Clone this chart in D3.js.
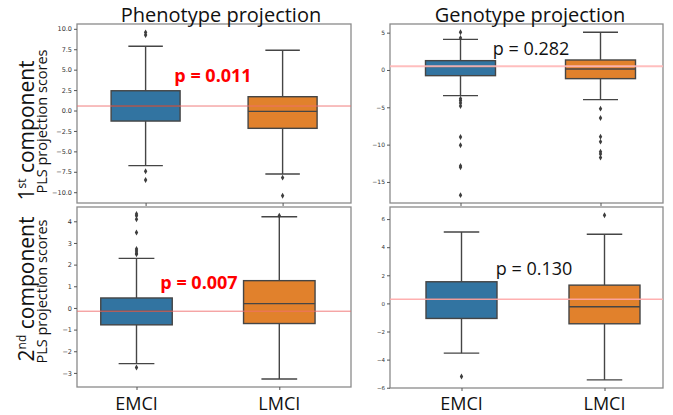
<!DOCTYPE html>
<html>
<head>
<meta charset="utf-8">
<script src="https://cdn.jsdelivr.net/npm/d3@7"></script>
<style>
  body { margin: 0; background: #fff; }
  svg { display: block; }
</style>
</head>
<body>
<svg width="673" height="415"></svg>
<script>
const groups = ["EMCI", "LMCI"]
const boxColors = ["#3274a1", "#e1812c"]

// phenotype projection, 1st component
const pheno1Lo = [-6.75, -7.77]
const pheno1Q1 = [-1.29, -2.18]
const pheno1Med = [0.55, -0.1]
const pheno1Q3 = [2.42, 1.69]
const pheno1Hi = [7.86, 7.37]
const pheno1Out = [[9.24, 9.57, -7.44, -8.5], [-8.22, -10.43]]
const pheno1Ticks = [-10, -7.5, -5, -2.5, 0, 2.5, 5, 7.5, 10]

// genotype projection, 1st component
const geno1Lo = [-3.44, -3.97]
const geno1Q1 = [-0.76, -1.16]
const geno1Med = [0.45, 0.13]
const geno1Q3 = [1.25, 1.34]
const geno1Hi = [4.1, 5.05]
const geno1Out = [
  [5.05, 4.3, -3.84, -4.1, -4.42, -4.82, -8.97, -10.08, -12.85, -13.03, -16.77],
  [-5.18, -6.43, -8.93, -9.6, -10.94, -11.24, -11.74]
]
const geno1Ticks = [-15, -10, -5, 0, 5]

// phenotype projection, 2nd component
const pheno2Lo = [-2.57, -3.28]
const pheno2Q1 = [-0.78, -0.72]
const pheno2Med = [-0.15, 0.2]
const pheno2Q3 = [0.46, 1.26]
const pheno2Hi = [2.29, 4.21]
const pheno2Out = [[2.48, 2.53, 2.63, 2.72, 3.48, 4.09, 4.26, 4.34, -2.75], [4.26]]
const pheno2Ticks = [-3, -2, -1, 0, 1, 2, 3, 4]

// genotype projection, 2nd component
const geno2Lo = [-3.54, -5.44]
const geno2Q1 = [-1.07, -1.45]
const geno2Med = [0.29, -0.24]
const geno2Q3 = [1.54, 1.3]
const geno2Hi = [5.08, 4.92]
const geno2Out = [[-5.2], [6.27]]
const geno2Ticks = [-6, -4, -2, 0, 2, 4, 6]

// reference lines and p values
const refLines = [0.55, 0.5, -0.15, 0.29]
const pTexts = ["p = 0.011", "p = 0.282", "p = 0.007", "p = 0.130"]
const pSignificant = [true, false, true, false]

const svg = d3.select("svg")

const panels = [
  { lo: pheno1Lo, q1: pheno1Q1, med: pheno1Med, q3: pheno1Q3, hi: pheno1Hi, out: pheno1Out, ticks: pheno1Ticks, fmt: d3.format(".1f"),
    x0: 77, x1: 351, y0: 24, y1: 203, cx: [145.6, 282.6], bw: 69, dom: [-11.32, 10.59],
    refW: 1, refC: "#f07070", pX: 213, pY: 82, tickFs: 6.5 },
  { lo: geno1Lo, q1: geno1Q1, med: geno1Med, q3: geno1Q3, hi: geno1Hi, out: geno1Out, ticks: geno1Ticks, fmt: d3.format("d"),
    x0: 390, x1: 663, y0: 24, y1: 203, cx: [460.5, 600.5], bw: 70, dom: [-17.82, 6.16],
    refW: 2, refC: "#ffb8b8", pX: 531, pY: 55, tickFs: 6 },
  { lo: pheno2Lo, q1: pheno2Q1, med: pheno2Med, q3: pheno2Q3, hi: pheno2Hi, out: pheno2Out, ticks: pheno2Ticks, fmt: d3.format("d"),
    x0: 77, x1: 351, y0: 207, y1: 387, cx: [136.5, 279.3], bw: 71.5, dom: [-3.65, 4.66],
    refW: 1, refC: "#f07070", pX: 199, pY: 289, tickFs: 6.5 },
  { lo: geno2Lo, q1: geno2Q1, med: geno2Med, q3: geno2Q3, hi: geno2Hi, out: geno2Out, ticks: geno2Ticks, fmt: d3.format("d"),
    x0: 390, x1: 663, y0: 207, y1: 388, cx: [461.5, 604.5], bw: 71, dom: [-6.02, 6.86],
    refW: 1.5, refC: "#ffa8a8", pX: 534, pY: 275, tickFs: 5.5 }
]

panels.forEach((p, pi) => {
  const x = d3.scalePoint().domain(groups).range(p.cx)
  const y = d3.scaleLinear().domain(p.dom).range([p.y1, p.y0])
  const g = svg.append("g")

  // frame
  g.append("rect")
    .attr("x", p.x0).attr("y", p.y0)
    .attr("width", p.x1 - p.x0).attr("height", p.y1 - p.y0)
    .attr("fill", "none").attr("stroke", "#8a8a8a").attr("stroke-width", 1.3)

  // y axis
  const yAxis = g.append("g")
    .attr("transform", "translate(" + p.x0 + ",0)")
    .call(d3.axisLeft(y).tickValues(p.ticks).tickFormat(p.fmt).tickSize(3).tickPadding(2))
  yAxis.select(".domain").remove()
  yAxis.selectAll("line").attr("stroke", "#555")
  yAxis.selectAll("text").attr("fill", "#333").style("font-family", "DejaVu Sans").style("font-size", p.tickFs + "px")

  // x ticks
  const xAxis = g.append("g")
    .attr("transform", "translate(0," + p.y1 + ")")
    .call(d3.axisBottom(x).tickSize(3).tickFormat(""))
  xAxis.select(".domain").remove()
  xAxis.selectAll("line").attr("stroke", "#555")

  // boxes
  groups.forEach((c, i) => {
    const cx = x(c)
    const lineC = "#454545"
    g.append("line").attr("x1", cx).attr("x2", cx).attr("y1", y(p.hi[i])).attr("y2", y(p.q3[i]))
      .attr("stroke", lineC).attr("stroke-width", 1.4)
    g.append("line").attr("x1", cx).attr("x2", cx).attr("y1", y(p.q1[i])).attr("y2", y(p.lo[i]))
      .attr("stroke", lineC).attr("stroke-width", 1.4)
    ;[p.hi[i], p.lo[i]].forEach(v => {
      g.append("line").attr("x1", cx - p.bw / 4).attr("x2", cx + p.bw / 4).attr("y1", y(v)).attr("y2", y(v))
        .attr("stroke", lineC).attr("stroke-width", 1.4)
    })
    g.append("rect")
      .attr("x", cx - p.bw / 2).attr("width", p.bw)
      .attr("y", y(p.q3[i])).attr("height", y(p.q1[i]) - y(p.q3[i]))
      .attr("fill", boxColors[i]).attr("stroke", lineC).attr("stroke-width", 1.4)
    g.append("line").attr("x1", cx - p.bw / 2).attr("x2", cx + p.bw / 2).attr("y1", y(p.med[i])).attr("y2", y(p.med[i]))
      .attr("stroke", lineC).attr("stroke-width", 1.4)
    g.selectAll(null).data(p.out[i]).enter().append("path")
      .attr("d", d3.symbol(d3.symbolDiamond, 10))
      .attr("transform", d => "translate(" + cx + "," + y(d) + ")")
      .attr("fill", "#3d3d3d")
  })

  // reference line
  g.append("line")
    .attr("x1", p.x0).attr("x2", p.x1).attr("y1", y(refLines[pi])).attr("y2", y(refLines[pi]))
    .attr("stroke", p.refC).attr("stroke-width", p.refW).attr("opacity", 0.9)

  // p value
  g.append("text")
    .attr("x", p.pX).attr("y", p.pY).attr("text-anchor", "middle")
    .style("font-family", "Open Sans").style("font-size", "18px")
    .style("font-weight", pSignificant[pi] ? "bold" : "normal")
    .attr("fill", pSignificant[pi] ? "#ff0000" : "#111")
    .text(pTexts[pi])

  // category labels under bottom row
  if (pi >= 2) {
    g.selectAll(null).data(groups).enter().append("text")
      .attr("x", d => x(d)).attr("y", 410).attr("text-anchor", "middle")
      .style("font-family", "Open Sans").style("font-size", "18px").attr("fill", "#111")
      .text(d => d)
  }
})

// column titles
const titles = ["Phenotype projection", "Genotype projection"]
const titleX = [221, 530]
svg.selectAll(null).data(titles).enter().append("text")
  .attr("x", (d, i) => titleX[i]).attr("y", 21.5).attr("text-anchor", "middle")
  .style("font-family", "Open Sans").style("font-size", "20px").attr("fill", "#111")
  .text(d => d)

// row labels
const rowNum = ["1", "2"]
const rowSup = ["st", "nd"]
const rowBigY = [130.5, 289]
const rowSmallY = [121.5, 291.5]
rowNum.forEach((n, i) => {
  const t = svg.append("text")
    .attr("transform", "translate(34," + rowBigY[i] + ") rotate(-90)")
    .attr("text-anchor", "middle")
    .style("font-family", "Open Sans").style("font-size", "21px").attr("fill", "#111")
  t.append("tspan").text(n)
  t.append("tspan").attr("dy", -8).style("font-size", "12px").text(rowSup[i])
  t.append("tspan").attr("dy", 8).text(" component")
  svg.append("text")
    .attr("transform", "translate(47," + rowSmallY[i] + ") rotate(-90)")
    .attr("text-anchor", "middle")
    .style("font-family", "Open Sans").style("font-size", "14.5px").attr("fill", "#111")
    .text("PLS projection scores")
})
</script>
</body>
</html>
